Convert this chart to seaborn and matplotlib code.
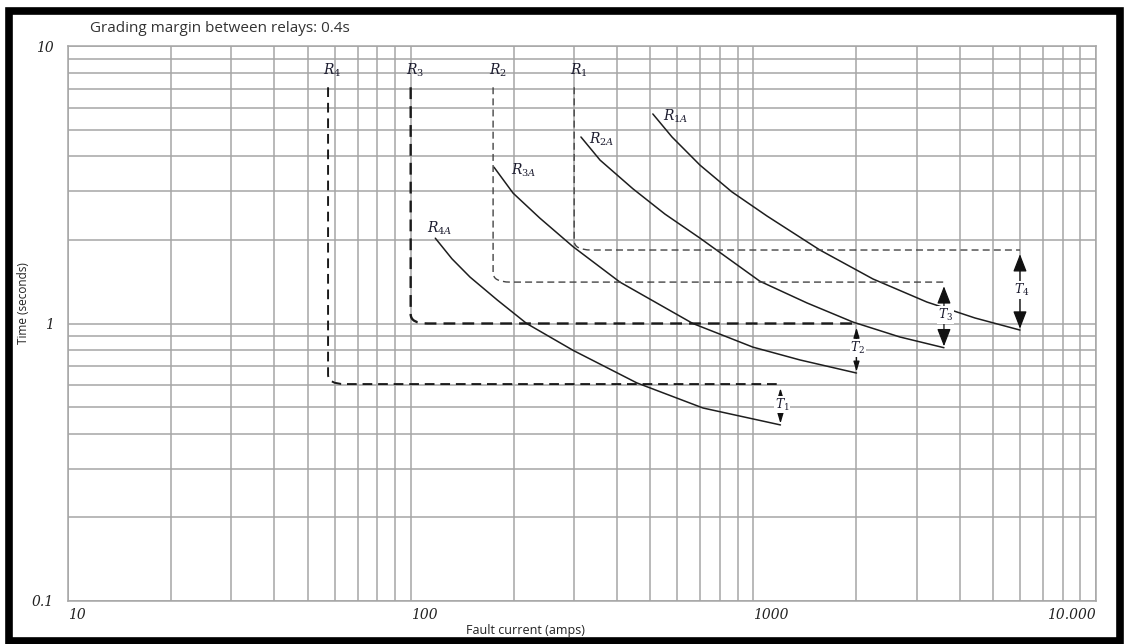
import numpy as np
import pandas as pd
import matplotlib
matplotlib.use("Agg")
import matplotlib.pyplot as plt
import seaborn as sns
from matplotlib.path import Path
from matplotlib.patches import PathPatch, Rectangle
from matplotlib.ticker import LogLocator, NullFormatter

# ---------------- data ----------------
r1a_current = [509, 579, 699, 866, 1096, 1564, 2234, 3210, 4432, 6000]
r1a_time = [5.69, 4.70, 3.72, 2.98, 2.44, 1.84, 1.447, 1.195, 1.047, 0.947]
r2a_current = [314, 357, 445, 552, 699, 1045, 1434, 1953, 2678, 3600]
r2a_time = [4.70, 3.88, 3.06, 2.48, 2.03, 1.42, 1.186, 1.012, 0.894, 0.818]
r3a_current = [175, 199, 238, 298, 408, 666, 997, 1368, 2000]
r3a_time = [3.66, 2.95, 2.40, 1.89, 1.41, 1.0, 0.822, 0.739, 0.663]
r4a_current = [118, 132, 149, 179, 218, 298, 457, 713, 1200]
r4a_time = [2.03, 1.71, 1.47, 1.215, 1.0, 0.80, 0.611, 0.496, 0.431]

curve_names = ["R_{1A}", "R_{2A}", "R_{3A}", "R_{4A}"]

relay_names = ["R_1", "R_2", "R_3", "R_4"]
relay_pickup = [300, 174, 100, 57.4]       # A, dashed vertical position
relay_setting = [1.84, 1.41, 1.0, 0.605]   # s, dashed horizontal level
relay_top = 7.1                            # s, top of dashed verticals

margin_names = ["T_4", "T_3", "T_2", "T_1"]

x_ticks = [10, 100, 1000, 10000]
x_ticklabels = ["10", "100", "1000", "10.000"]
y_ticks = [0.1, 1, 10]
y_ticklabels = ["0.1", "1", "10"]

title_text = "Grading margin between relays: 0.4s"
x_label = "Fault current (amps)"
y_label = "Time (seconds)"

# ---------------- figure ----------------
sns.set_style("white")
plt.rcParams["font.family"] = ["Open Sans", "DejaVu Sans"]
plt.rcParams["mathtext.fontset"] = "dejavuserif"

W, H = 1128, 644
fig = plt.figure(figsize=(W / 100, H / 100), dpi=100)
ax = fig.add_axes([68 / W, 1 - 601 / H, (1096 - 68) / W, (601 - 46) / H])

ax.set_xscale("log")
ax.set_yscale("log")
ax.set_xlim(10, 10000)
ax.set_ylim(0.1, 10)

grid_c = "#a6a6a6"
ax.set_axisbelow(True)
ax.xaxis.set_minor_locator(LogLocator(base=10, subs=np.arange(2, 10)))
ax.yaxis.set_minor_locator(LogLocator(base=10, subs=np.arange(2, 10)))
ax.xaxis.set_minor_formatter(NullFormatter())
ax.yaxis.set_minor_formatter(NullFormatter())
ax.grid(True, which="both", color=grid_c, lw=1.1)
for sp in ax.spines.values():
    sp.set_color(grid_c)
    sp.set_linewidth(1.1)

# relay curves via seaborn
frames = []
for name, cx, cy in zip(curve_names,
                        [r1a_current, r2a_current, r3a_current, r4a_current],
                        [r1a_time, r2a_time, r3a_time, r4a_time]):
    frames.append(pd.DataFrame({"current": cx, "time": cy, "relay": name}))
df = pd.concat(frames, ignore_index=True)
sns.lineplot(data=df, x="current", y="time", units="relay", estimator=None,
             color="#1e1e1e", lw=1.1, ax=ax, legend=False, sort=False)

curve_ends = [(cx[-1], cy[-1]) for cx, cy in zip(
    [r1a_current, r2a_current, r3a_current, r4a_current],
    [r1a_time, r2a_time, r3a_time, r4a_time])]

# curve labels
label_offsets = [(7, -2), (6, -2), (12, -2), (-6, 7)]
for name, cx, cy, off in zip(curve_names,
                             [r1a_current, r2a_current, r3a_current, r4a_current],
                             [r1a_time, r2a_time, r3a_time, r4a_time],
                             label_offsets):
    ax.annotate(f"${name}$", xy=(cx[0], cy[0]), xytext=off,
                textcoords="offset points", ha="left", va="center",
                fontsize=10, color="#1b1b2e")

# dashed relay setting lines with rounded corners
lws = [1.0, 1.0, 1.7, 1.4]
dash_cols = ["#444444", "#444444", "#1a1a1a", "#1a1a1a"]
for i, (name, xp, ts) in enumerate(zip(relay_names, relay_pickup, relay_setting)):
    x_end = curve_ends[i][0]
    verts = [(xp, relay_top), (xp, ts * 1.08), (xp, ts), (xp * 1.12, ts), (x_end, ts)]
    codes = [Path.MOVETO, Path.LINETO, Path.CURVE3, Path.CURVE3, Path.LINETO]
    patch = PathPatch(Path(verts, codes), fill=False, ec=dash_cols[i], lw=lws[i],
                      linestyle=(0, (5, 3)), zorder=3)
    ax.add_patch(patch)
    ax.text(xp * 1.03, 8.2, f"${name}$", ha="center", va="center",
            fontsize=10, color="#1b1b2e")

# grading margin arrows
for i, name in enumerate(margin_names):
    xe, te = curve_ends[i]
    ts = relay_setting[i]
    big = i < 2
    style = ("<|-|>,head_length=0.9,head_width=0.35" if big
             else "<|-|>,head_length=0.5,head_width=0.15")
    ax.annotate("", xy=(xe, ts), xytext=(xe, te),
                arrowprops=dict(arrowstyle=style, color="#111111", lw=0.9,
                                mutation_scale=12, shrinkA=1, shrinkB=3),
                zorder=4)
    ax.text(xe * 1.01, np.sqrt(ts * te), f"${name}$", ha="center", va="center",
            fontsize=9, color="#1b1b2e", zorder=5,
            bbox=dict(fc="white", ec="none", pad=0.5))

# ticks
ax.set_xticks(x_ticks, labels=x_ticklabels)
ax.set_yticks(y_ticks, labels=y_ticklabels)
ax.tick_params(which="minor", length=0)
ax.tick_params(axis="x", which="major", length=4, color=grid_c, pad=1)
ax.tick_params(axis="y", which="major", length=10, color=grid_c, pad=0)
xl = ax.get_xticklabels()
for j, lab in enumerate(xl):
    lab.set_fontfamily("DejaVu Serif")
    lab.set_fontstyle("italic")
    lab.set_fontsize(10)
    lab.set_color("#222222")
    lab.set_ha("right" if j == len(xl) - 1 else "left")
for lab in ax.get_yticklabels():
    lab.set_fontfamily("DejaVu Serif")
    lab.set_fontstyle("italic")
    lab.set_fontsize(10)
    lab.set_color("#222222")

ax.set_xlabel(x_label, fontsize=9, color="#222222")
ax.set_ylabel(y_label, fontsize=8.5, color="#222222")
ax.xaxis.set_label_coords((525 - 68) / 1028, (601 - 624) / 555)
ax.yaxis.set_label_coords((30 - 68) / 1028, (601 - 303) / 555)

fig.text(90 / W, 1 - 28 / H, title_text, ha="left", va="center",
         fontsize=11, color="#333333")

# black frame around the picture
fig.patches.append(Rectangle((9 / W, 1 - 641 / H), (1120 - 9) / W, (641 - 10.5) / H,
                             transform=fig.transFigure, fill=False,
                             ec="black", lw=5.5, zorder=10))

fig.savefig("out.png", dpi=100, facecolor="white")
